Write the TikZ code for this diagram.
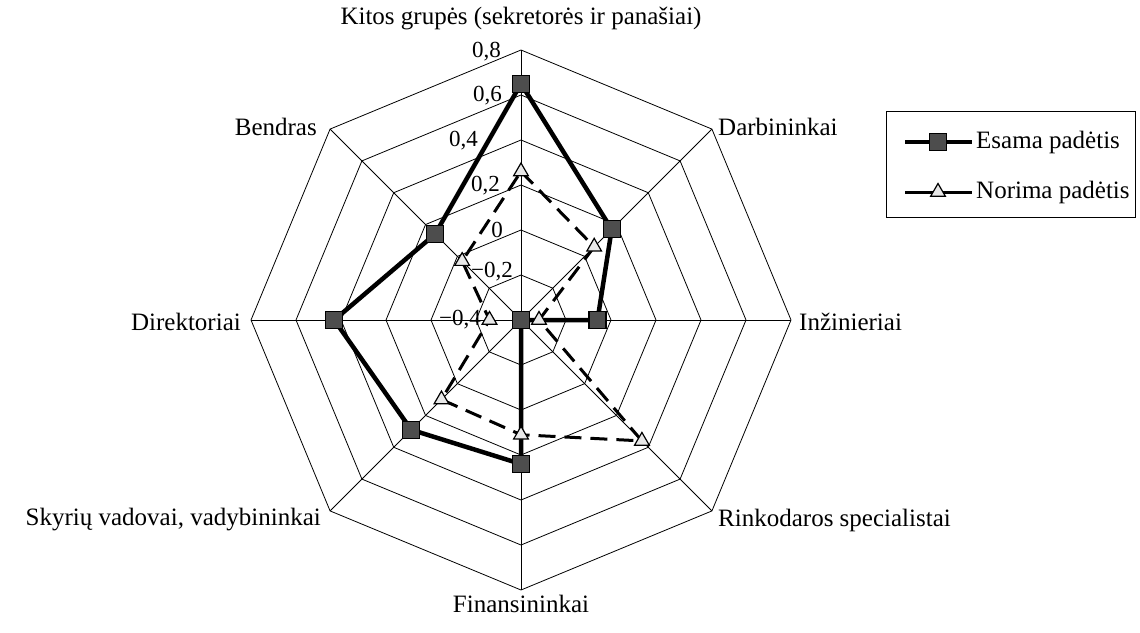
\documentclass[tikz,border=0pt]{standalone}
\usepackage{fontspec}
\setmainfont{Liberation Serif}
\usetikzlibrary{shapes.geometric}
\definecolor{markdark}{RGB}{77,77,77}
\definecolor{marklight}{RGB}{232,232,232}

\begin{document}
\begin{tikzpicture}[x=1pt,y=-1pt,
  font=\fontsize{25}{29}\selectfont,
  grid/.style={line width=0.8pt},
  esama/.style={line width=4.5pt},
  norima/.style={line width=3pt,dash pattern=on 17pt off 9pt},
  sqmark/.style={draw,line width=1.2pt,fill=markdark,minimum size=17pt,inner sep=0pt},
  trimark/.style={draw,line width=1.2pt,fill=marklight,regular polygon,
    regular polygon sides=3,minimum size=17pt,inner sep=0pt},
  tick/.style={font=\fontsize{23}{27}\selectfont,inner sep=0pt,anchor=east},
  lbl/.style={inner sep=0pt}]
\useasboundingbox (0,0) rectangle (1140,632);

\begin{scope}[shift={(521,320)}]
% rings, one every 0,2
\foreach \i in {1,...,6}
  \draw[grid] (-90:{\i*45}) \foreach \k in {1,...,7} { -- ({-90+45*\k}:{\i*45}) } -- cycle;

% spokes
\foreach \k in {0,...,7}
  \draw[grid] (0,0) -- ({-90+45*\k}:270);

% the two series
\foreach \v [count=\k from 0] in {0.65,0.17,-0.06,-0.4,0.24,0.29,0.43,0.14}
  \coordinate (e\k) at ({-90+45*\k}:{(\v+0.4)*225});
\foreach \v [count=\k from 0] in {0.26,0.06,-0.32,0.36,0.11,0.10,-0.26,-0.03}
  \coordinate (n\k) at ({-90+45*\k}:{(\v+0.4)*225});
\end{scope}

\draw[esama] (e0) -- (e1) -- (e2) -- (e3) -- (e4) -- (e5) -- (e6) -- (e7) -- cycle;
\foreach \k in {0,...,7} \node[sqmark] at (e\k) {};
\draw[norima] (n0) -- (n1) -- (n2) -- (n3) -- (n4) -- (n5) -- (n6) -- (n7) -- cycle;
\foreach \k in {0,...,7} \node[trimark] at (n\k) {};

% axis values
\node[tick] at (501,52)  {0,8};
\node[tick] at (502,96)  {0,6};
\node[tick] at (478,141) {0,4};
\node[tick] at (500,186) {0,2};
\node[tick] at (503,230) {0};
\node[tick] at (513,272) {−0,2};
\node[tick] at (481,320) {−0,4};

% category names
\node[lbl] (kitos) at (521,18) {Kitos grupės (sekretorės ir panašiai)};
\node[lbl,anchor=west] (darb) at (718,127) {Darbininkai};
\node[lbl,anchor=west] (inz) at (799,322) {Inžinieriai};
\node[lbl,anchor=west] (rink) at (718,520) {Rinkodaros specialistai};
\node[lbl] (fin) at (521,604) {Finansininkai};
\node[lbl,anchor=east] (skyr) at (321,520) {Skyrių vadovai, vadybininkai};
\node[lbl,anchor=east] (dir) at (241,322) {Direktoriai};
\node[lbl,anchor=east] (bend) at (317,127) {Bendras};

% legend
\draw[line width=0.8pt] (886,111) rectangle (1135,217);
\draw[esama] (905,142) -- (972,142);
\node[sqmark] (legE) at (938,142) {};
\node[lbl,anchor=west] at (976,142) {Esama padėtis};
\draw[norima,solid] (905,192) -- (972,192);
\node[trimark] (legN) at (938,192) {};
\node[lbl,anchor=west] at (976,192) {Norima padėtis};
\end{tikzpicture}
\end{document}
